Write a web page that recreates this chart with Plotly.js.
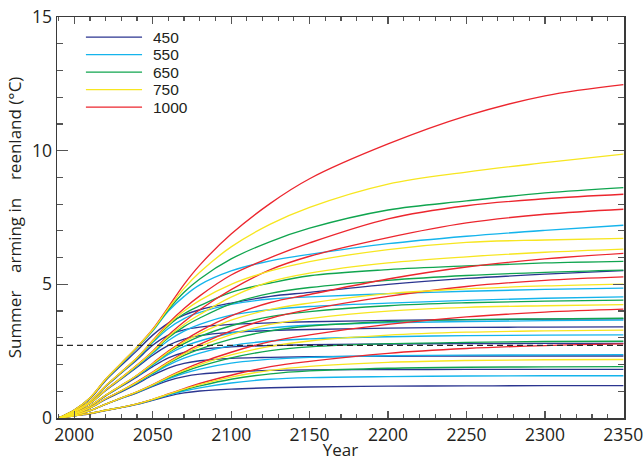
<!DOCTYPE html>
<html><head><meta charset="utf-8">
<script src="https://cdn.plot.ly/plotly-3.0.1.min.js"></script>
<style>html,body{margin:0;padding:0;background:#fff;}#chart{width:643px;height:461px;}</style>
</head><body><div id="chart"></div>
<script>
// Years at which each run is sampled
const YEARS = [1990, 2000, 2010, 2020, 2030, 2040, 2050, 2060, 2070, 2080, 2100, 2125, 2150, 2200, 2250, 2300, 2350];

// Stabilisation scenarios (ppm CO2) and legend colours
const SCENARIOS = ['450', '550', '650', '750', '1000'];
const COLORS = ['#2b3590', '#14b4ec', '#10a54f', '#f7e620', '#ec262e'];

// Summer warming (°C) runs, one row per model setting, for each scenario
const RUNS_450 = [
  [0, .29, .72, 1.40, 1.97, 2.52, 3.10, 3.55, 3.85, 4.05, 4.30, 4.55, 4.70, 5.00, 5.22, 5.38, 5.51],
  [0, .26, .61, 1.18, 1.68, 2.18, 2.72, 3.10, 3.30, 3.40, 3.50, 3.56, 3.60, 3.65, 3.68, 3.70, 3.71],
  [0, .22, .54, 1.03, 1.46, 1.90, 2.35, 2.72, 2.95, 3.08, 3.20, 3.27, 3.31, 3.36, 3.39, 3.40, 3.41],
  [0, .18, .44, .83, 1.18, 1.54, 1.92, 2.25, 2.45, 2.56, 2.66, 2.71, 2.74, 2.77, 2.78, 2.79, 2.79],
  [0, .15, .37, .70, .98, 1.28, 1.60, 1.87, 2.04, 2.14, 2.23, 2.27, 2.29, 2.31, 2.32, 2.32, 2.32],
  [0, .11, .27, .51, .73, .94, 1.18, 1.40, 1.55, 1.64, 1.73, 1.78, 1.80, 1.81, 1.82, 1.82, 1.82],
  [0, .08, .16, .28, .39, .51, .66, .82, .94, 1.01, 1.08, 1.13, 1.16, 1.19, 1.20, 1.21, 1.21]
];
const RUNS_550 = [
  [0, .30, .74, 1.43, 2.02, 2.62, 3.25, 4.00, 4.55, 4.98, 5.50, 5.88, 6.12, 6.52, 6.80, 7.02, 7.21],
  [0, .26, .62, 1.19, 1.70, 2.22, 2.82, 3.35, 3.72, 3.95, 4.25, 4.45, 4.53, 4.65, 4.74, 4.81, 4.86],
  [0, .22, .55, 1.04, 1.48, 1.94, 2.42, 2.90, 3.25, 3.50, 3.85, 4.05, 4.17, 4.30, 4.40, 4.48, 4.53],
  [0, .18, .45, .84, 1.20, 1.57, 1.98, 2.38, 2.68, 2.88, 3.18, 3.37, 3.47, 3.56, 3.61, 3.64, 3.66],
  [0, .15, .38, .71, 1.00, 1.31, 1.65, 1.98, 2.24, 2.43, 2.71, 2.88, 2.96, 3.04, 3.08, 3.10, 3.11],
  [0, .11, .28, .52, .74, .96, 1.21, 1.46, 1.67, 1.83, 2.05, 2.20, 2.27, 2.33, 2.35, 2.36, 2.37],
  [0, .08, .17, .29, .40, .52, .68, .86, 1.01, 1.13, 1.31, 1.45, 1.51, 1.55, 1.57, 1.58, 1.58]
];
const RUNS_650 = [
  [0, .30, .75, 1.44, 2.04, 2.64, 3.28, 4.05, 4.70, 5.20, 5.95, 6.60, 7.10, 7.78, 8.12, 8.42, 8.62],
  [0, .26, .62, 1.20, 1.71, 2.24, 2.86, 3.45, 3.90, 4.20, 4.70, 5.05, 5.32, 5.55, 5.69, 5.80, 5.86],
  [0, .22, .55, 1.05, 1.50, 1.96, 2.46, 3.00, 3.42, 3.74, 4.27, 4.66, 4.88, 5.15, 5.33, 5.45, 5.53],
  [0, .18, .45, .85, 1.21, 1.59, 2.01, 2.44, 2.78, 3.05, 3.45, 3.79, 3.98, 4.20, 4.31, 4.37, 4.41],
  [0, .15, .38, .72, 1.01, 1.33, 1.68, 2.04, 2.34, 2.58, 2.95, 3.26, 3.44, 3.60, 3.68, 3.71, 3.73],
  [0, .11, .28, .52, .75, .97, 1.23, 1.50, 1.73, 1.93, 2.25, 2.52, 2.66, 2.78, 2.83, 2.86, 2.87],
  [0, .08, .17, .29, .40, .53, .69, .88, 1.05, 1.20, 1.45, 1.65, 1.76, 1.86, 1.90, 1.91, 1.92]
];
const RUNS_750 = [
  [0, .30, .75, 1.45, 2.05, 2.65, 3.30, 4.10, 4.85, 5.45, 6.40, 7.25, 7.88, 8.75, 9.20, 9.55, 9.87],
  [0, .26, .62, 1.20, 1.72, 2.25, 2.88, 3.50, 4.00, 4.40, 5.00, 5.50, 5.85, 6.30, 6.57, 6.66, 6.72],
  [0, .22, .55, 1.05, 1.50, 1.97, 2.48, 3.05, 3.50, 3.87, 4.52, 5.10, 5.42, 5.80, 6.03, 6.20, 6.32],
  [0, .18, .45, .85, 1.22, 1.60, 2.03, 2.47, 2.85, 3.16, 3.66, 4.06, 4.30, 4.65, 4.83, 4.94, 5.01],
  [0, .15, .38, .72, 1.02, 1.34, 1.70, 2.07, 2.40, 2.68, 3.12, 3.50, 3.72, 4.00, 4.14, 4.20, 4.24],
  [0, .11, .28, .52, .75, .98, 1.24, 1.53, 1.78, 2.00, 2.36, 2.68, 2.88, 3.10, 3.21, 3.26, 3.29],
  [0, .08, .17, .29, .40, .53, .70, .89, 1.08, 1.25, 1.53, 1.78, 1.93, 2.08, 2.15, 2.18, 2.19]
];
const RUNS_1000 = [
  [0, .30, .75, 1.45, 2.05, 2.65, 3.32, 4.15, 5.00, 5.72, 6.88, 8.03, 8.95, 10.25, 11.30, 12.05, 12.47],
  [0, .26, .62, 1.20, 1.72, 2.25, 2.90, 3.55, 4.10, 4.57, 5.35, 6.00, 6.55, 7.45, 7.94, 8.20, 8.37],
  [0, .22, .55, 1.05, 1.50, 1.98, 2.50, 3.10, 3.60, 4.05, 4.80, 5.55, 6.05, 6.75, 7.30, 7.62, 7.81],
  [0, .18, .45, .85, 1.22, 1.60, 2.05, 2.50, 2.90, 3.25, 3.82, 4.32, 4.62, 5.20, 5.65, 5.95, 6.16],
  [0, .15, .38, .72, 1.02, 1.35, 1.72, 2.10, 2.45, 2.75, 3.26, 3.73, 4.06, 4.55, 4.92, 5.15, 5.28],
  [0, .11, .28, .52, .75, .98, 1.25, 1.55, 1.82, 2.06, 2.46, 2.86, 3.11, 3.50, 3.78, 3.96, 4.07],
  [0, .08, .17, .29, .40, .53, .70, .90, 1.10, 1.29, 1.60, 1.92, 2.12, 2.42, 2.60, 2.71, 2.77]
];

// Dashed reference level (°C)
const THRESHOLD = 2.72;

// Axis tick values
const X_TICKS = [2000, 2050, 2100, 2150, 2200, 2250, 2300, 2350];
const Y_TICKS = [0, 5, 10, 15];

const RUNS = [RUNS_450, RUNS_550, RUNS_650, RUNS_750, RUNS_1000];
const DRAW_ORDER = [0, 1, 2, 4, 3];

const FONT = 'Open Sans, Noto Sans, Arial, sans-serif';
const LEG_FONT = 'Liberation Sans, Arial, sans-serif';
const traces = [];
DRAW_ORDER.forEach(function (s) {
  RUNS[s].forEach(function (vals) {
    traces.push({
      x: YEARS, y: vals, type: 'scatter', mode: 'lines',
      line: {color: COLORS[s], width: 1.35, shape: 'spline', smoothing: 1},
      name: SCENARIOS[s], legendgroup: SCENARIOS[s], showlegend: false,
      hoverinfo: 'skip'
    });
  });
});

// dashed reference line + custom legend (line samples + labels)
const shapes = [{
  type: 'line', xref: 'paper', yref: 'y', x0: 0, x1: 1, y0: THRESHOLD, y1: THRESHOLD,
  line: {color: '#2a2a2a', width: 1.3, dash: '6px,4px'}
}];
const annotations = [];
const LEG_TOP = 0.950, LEG_STEP = 0.0437;
SCENARIOS.forEach(function (lab, i) {
  const yy = LEG_TOP - i * LEG_STEP;
  shapes.push({type: 'line', xref: 'paper', yref: 'paper', x0: 0.051, x1: 0.150, y0: yy, y1: yy,
    line: {color: COLORS[i], width: 1.35}});
  annotations.push({xref: 'paper', yref: 'paper', x: 0.168, y: yy, xanchor: 'left', yanchor: 'middle',
    text: lab, showarrow: false, borderpad: 0, font: {family: LEG_FONT, size: 15.5, color: '#231f20'}});
});

const axisCommon = {
  showline: true, linecolor: '#3a3a3a', linewidth: 1.5, mirror: 'ticks',
  ticks: 'inside', tickcolor: '#555', tickwidth: 1.3,
  showgrid: false, zeroline: false, ticklabeloverflow: 'allow',
  tickfont: {family: FONT, size: 17.5, color: '#231f20'}
};

const layout = {
  width: 643, height: 461,
  margin: {l: 57, r: 19, t: 17, b: 43},
  paper_bgcolor: '#fff', plot_bgcolor: '#fff',
  showlegend: false,
  xaxis: Object.assign({}, axisCommon, {
    range: [1989, 2350.4], tickvals: X_TICKS, ticklen: 7,
    minor: {dtick: 10, tick0: 2000, ticks: 'inside', ticklen: 4, tickcolor: '#555', tickwidth: 1.2},
    title: {text: 'Year', font: {family: FONT, size: 17, color: '#231f20'}, standoff: 2}
  }),
  yaxis: Object.assign({}, axisCommon, {
    range: [0, 15], tickvals: Y_TICKS, ticklen: 11,
    minor: {dtick: 1, tick0: 0, ticks: 'inside', ticklen: 6, tickcolor: '#555', tickwidth: 1.2},
    title: {text: 'Summer\u00A0\u00A0\u00A0\u00A0arming in\u00A0\u00A0\u00A0\u00A0reenland (°C)', font: {family: FONT, size: 17, color: '#231f20'}, standoff: 6}
  }),
  shapes: shapes,
  annotations: annotations
};

Plotly.newPlot('chart', traces, layout, {staticPlot: true, displayModeBar: false});
</script>
</body></html>
